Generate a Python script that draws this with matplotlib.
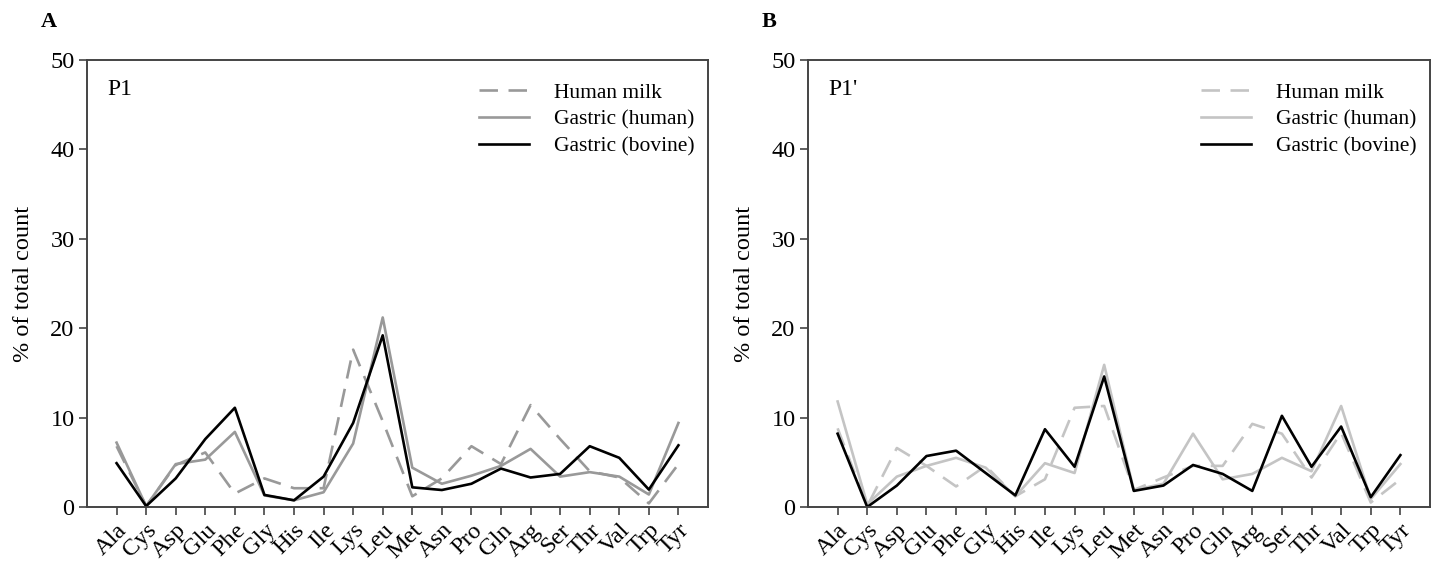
import matplotlib
matplotlib.use("Agg")
import matplotlib.pyplot as plt

plt.rcParams['font.family'] = ['Liberation Serif', 'DejaVu Serif']

amino_acids = ["Ala", "Cys", "Asp", "Glu", "Phe", "Gly", "His", "Ile", "Lys", "Leu",
               "Met", "Asn", "Pro", "Gln", "Arg", "Ser", "Thr", "Val", "Trp", "Tyr"]

# Panel A (P1)
p1_human_milk = [6.8, 0.1, 4.7, 6.1, 1.5, 3.2, 2.1, 2.1, 17.6, 9.6,
                 1.2, 3.2, 6.8, 4.8, 11.4, 7.6, 4.0, 3.3, 0.4, 4.8]
p1_gastric_human = [7.2, 0.1, 4.8, 5.3, 8.4, 1.3, 0.75, 1.65, 7.1, 21.2,
                    4.4, 2.6, 3.5, 4.6, 6.5, 3.4, 3.9, 3.4, 1.4, 9.4]
p1_gastric_bovine = [4.9, 0.1, 3.2, 7.6, 11.1, 1.35, 0.75, 3.4, 9.4, 19.2,
                     2.2, 1.9, 2.6, 4.3, 3.3, 3.7, 6.8, 5.5, 1.95, 6.9]

# Panel B (P1')
p1p_human_milk = [8.8, 0.1, 6.6, 4.6, 2.3, 4.6, 1.2, 3.1, 11.1, 11.3,
                  1.9, 3.3, 4.6, 4.6, 9.3, 8.2, 3.3, 8.3, 0.5, 3.1]
p1p_gastric_human = [11.8, 0.3, 3.4, 4.6, 5.5, 4.4, 1.2, 4.9, 3.8, 15.9,
                     1.9, 2.6, 8.2, 3.1, 3.7, 5.5, 4.0, 11.3, 0.9, 4.8]
p1p_gastric_bovine = [8.2, 0.0, 2.4, 5.7, 6.3, 3.8, 1.3, 8.7, 4.5, 14.6,
                      1.8, 2.4, 4.7, 3.7, 1.8, 10.2, 4.5, 9.0, 1.1, 5.8]

series_labels = ["Human milk", "Gastric (human)", "Gastric (bovine)"]

fig = plt.figure(figsize=(14.34, 5.62), dpi=100)
axA = fig.add_axes([87/1434, 55/562, 621/1434, 447/562])
axB = fig.add_axes([808/1434, 55/562, 622/1434, 447/562])

panels = [
    (axA, "A", "P1", [p1_human_milk, p1_gastric_human, p1_gastric_bovine], "#999999"),
    (axB, "B", "P1'", [p1p_human_milk, p1p_gastric_human, p1p_gastric_bovine], "#c4c4c4"),
]

x = list(range(len(amino_acids)))
spine_col = "#444444"
for ax, letter, tag, data, gcol in panels:
    hm, gh, gb = data
    ax.plot(x, hm, color=gcol, lw=1.9, dashes=(7, 4), label=series_labels[0])
    ax.plot(x, gh, color=gcol, lw=1.9, label=series_labels[1])
    ax.plot(x, gb, color="black", lw=1.9, label=series_labels[2])
    ax.set_xlim(-1, 20)
    ax.set_ylim(0, 50)
    ax.set_yticks([0, 10, 20, 30, 40, 50])
    ax.set_xticks(x)
    ax.set_xticklabels(amino_acids, rotation=45, ha='right', rotation_mode='anchor',
                       fontsize=17.5)
    ax.tick_params(axis='both', direction='out', length=6, width=1.2, color=spine_col,
                   labelsize=17.5, pad=3)
    for sp in ax.spines.values():
        sp.set_color(spine_col)
        sp.set_linewidth(1.4)
    ax.set_ylabel("% of total count", fontsize=17.5, labelpad=12)
    ax.text(0.033, 0.935, tag, transform=ax.transAxes, fontsize=17, va='center', ha='left')
    ax.legend(loc='upper right', bbox_to_anchor=(1.0, 0.978), frameon=False,
              fontsize=15.5, handlelength=2.3, handletextpad=1.2, labelspacing=0.32,
              borderaxespad=0.2)
    ax.text(-0.075, 1.085, letter, transform=ax.transAxes, fontsize=16,
            fontweight='bold', ha='left', va='center')

fig.savefig("out.png", dpi=100)
